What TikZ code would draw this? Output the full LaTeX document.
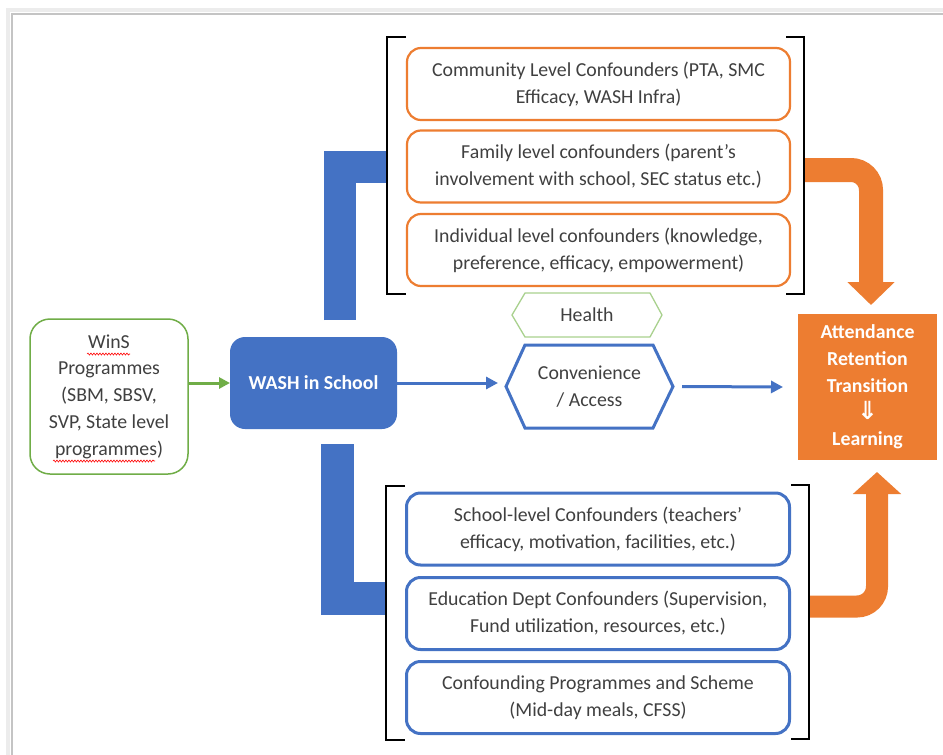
\documentclass[tikz,border=0pt]{standalone}
\usepackage{fontspec}
\setmainfont{Carlito}
\newfontfamily\dejavu{DejaVu Sans}
\usetikzlibrary{arrows.meta,calc,decorations.pathmorphing}
\definecolor{oran}{HTML}{ED7D31}
\definecolor{blu}{HTML}{4472C4}
\definecolor{grn}{HTML}{70AD47}
\definecolor{lgrn}{HTML}{A9D18E}
\definecolor{txt}{HTML}{404040}
\definecolor{frm}{HTML}{C4C4C4}
\newcommand\myfs{\fontsize{19.8}{26.8}\selectfont}
\tikzset{
  every node/.style={inner sep=0pt, outer sep=0pt, text=txt, font=\myfs},
  confO/.style={draw=oran, line width=2.2pt, rounded corners=14pt, minimum width=383pt, minimum height=72pt, align=center},
  confB/.style={draw=blu, line width=3pt, rounded corners=14pt, minimum width=383pt, minimum height=72pt, align=center},
  brk/.style={draw=black, line width=2.6pt},
  barrow/.style={draw=blu, line width=3pt, -{Triangle[length=12pt,width=12pt]}},
  garrow/.style={draw=grn, line width=3pt, -{Triangle[length=11pt,width=11pt]}},
  oband/.style={draw=oran, line width=24pt, rounded corners=20pt},
  bband/.style={draw=blu, line width=32pt, line join=miter},
  squig/.style={draw=red, line width=0.6pt, decorate, decoration={snake, amplitude=1pt, segment length=3pt}}
}
\begin{document}
\begin{tikzpicture}[x=1pt,y=-1pt]
\useasboundingbox (0,0) rectangle (943,755);
\fill[white] (0,0) rectangle (943,755);
% page frame
\draw[gray!15, line width=4pt] (8,755) -- (8,10) -- (943,10);
\draw[frm, line width=2pt] (11.5,755) -- (11.5,13.5) -- (943,13.5);

% confounder boxes (top)
\node[confO] (c1) at (598.5,84) {Community Level Confounders (PTA, SMC\\Efficacy, WASH Infra)};
\node[confO] (c2) at (598.5,166.5) {Family level confounders (parent’s\\involvement with school, SEC status etc.)};
\node[confO] (c3) at (598.5,250) {Individual level confounders (knowledge,\\preference, efficacy, empowerment)};
% confounder boxes (bottom)
\node[confB] (s1) at (598,529) {School-level Confounders (teachers’\\efficacy, motivation, facilities, etc.)};
\node[confB] (s2) at (598,613.5) {Education Dept Confounders (Supervision,\\Fund utilization, resources, etc.)};
\node[confB] (s3) at (598,697.5) {Confounding Programmes and Scheme\\(Mid-day meals, CFSS)};

% main nodes
\node[draw=grn, line width=1.5pt, rounded corners=20pt, minimum width=158pt, minimum height=155pt, align=center] (wins) at (109,396.5) {WinS\\Programmes\\(SBM, SBSV,\\SVP, State level\\programmes)};
\node[fill=blu, rounded corners=15pt, minimum width=167pt, minimum height=92pt, text=white, font=\myfs\bfseries] (wash) at (313.5,383) {WASH in School};
\node[fill=oran, minimum width=139pt, minimum height=146pt, text=white, font=\myfs\bfseries, align=center] (out) at (867.5,387) {Attendance\\Retention\\Transition\\{\dejavu\bfseries\fontsize{25}{26.8}\selectfont ⇓}\\Learning};

\node[minimum width=150pt, minimum height=44pt] (health) at (587,315) {Health};
\draw[lgrn, line width=1.3pt] (health.west) -- ([xshift=13pt]health.north west) -- ([xshift=-12pt]health.north east) -- (health.east) -- ([xshift=-12pt]health.south east) -- ([xshift=13pt]health.south west) -- cycle;

\node[minimum width=167pt, minimum height=83pt, align=center] (conv) at (589.5,386.5) {Convenience\\/ Access};
\draw[blu, line width=3pt, line join=miter] (conv.west) -- ([xshift=19pt]conv.north west) -- ([xshift=-20pt]conv.north east) -- (conv.east) -- ([xshift=-20pt]conv.south east) -- ([xshift=19pt]conv.south west) -- cycle;

% spelling squiggles
\draw[squig] (87,354) -- (130,354);
\draw[squig] (53,461) -- (155,461);

% connectors
\draw[garrow] (wins.east |- wash.west) -- (wash.west);
\draw[barrow] (wash.east) -- ([xshift=-8pt]conv.west |- wash.east);
\draw[barrow] ([xshift=9pt]conv.east) -- ([xshift=-15pt]out.west);

% blue L connectors from WASH to confounder groups
\coordinate (btop) at (340,320);
\coordinate (bturn1) at (340,166.5);
\coordinate (bend1) at (388,166.5);
\draw[bband] (btop) -- (bturn1) -- (bend1);
\coordinate (bbot) at (337.5,444);
\coordinate (bturn2) at (337.5,598);
\coordinate (bend2) at (387,598);
\draw[bband, line width=33pt] (bbot) -- (bturn2) -- (bend2);

% orange curved arrows to outcome
\coordinate (o1s) at (804,170);
\coordinate (o1t) at (871,170);
\coordinate (o1e) at (871,305);
\draw[oband, -{Triangle[length=23pt,width=46pt]}] (o1s) -- (o1t) -- (o1e);
\coordinate (o2s) at (810,606.5);
\coordinate (o2t) at (877,606.5);
\coordinate (o2e) at (877,472);
\draw[oband, line width=22pt, -{Triangle[length=22pt,width=47pt]}] (o2s) -- (o2t) -- (o2e);

% brackets
\draw[brk] (406,37) -- (387,37) -- (387,294) -- (406,294);
\draw[brk] (786,37) -- (804,37) -- (804,294) -- (786,294);
\draw[brk] (405,486) -- (386,486) -- (386,740) -- (405,740);
\draw[brk] (791,485) -- (809,485) -- (809,739) -- (791,739);
\end{tikzpicture}
\end{document}
